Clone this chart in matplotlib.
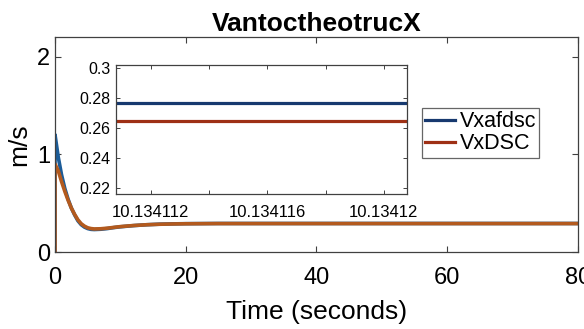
import numpy as np
import matplotlib
matplotlib.use('Agg')
import matplotlib.pyplot as plt

plt.rcParams['font.family'] = ['Liberation Sans', 'DejaVu Sans']

# main response
t = [0, 0, 0.5, 1, 1.5, 2, 2.5, 3, 3.5, 4, 4.5, 5, 5.5, 6, 7, 8, 9, 10, 12, 14,
     16, 18, 20, 25, 30, 40, 50, 60, 70, 80]
v_afdsc = [0, 1.2, 0.97, 0.79, 0.65, 0.54, 0.45, 0.38, 0.32, 0.28, 0.255, 0.24, 0.232,
           0.23, 0.233, 0.24, 0.25, 0.258, 0.27, 0.279, 0.285, 0.288, 0.29, 0.292, 0.292,
           0.292, 0.292, 0.292, 0.292, 0.292]
v_dsc = [0, 0.9, 0.83, 0.72, 0.62, 0.53, 0.45, 0.385, 0.33, 0.29, 0.265, 0.248, 0.24,
         0.236, 0.238, 0.244, 0.252, 0.26, 0.271, 0.279, 0.284, 0.287, 0.289, 0.291, 0.291,
         0.291, 0.291, 0.291, 0.291, 0.291]

# zoomed window
t_zoom = [10.13411, 10.13413]
zoom_afdsc = [0.2767, 0.2767]
zoom_dsc = [0.2643, 0.2643]

labels = ['Vxafdsc', 'VxDSC']
xticks_main = [0, 20, 40, 60, 80]
yticks_main = [0, 1, 2]
xticks_zoom = [10.134112, 10.134114, 10.134116, 10.134118, 10.13412]
xticklabels_zoom = ['10.134112', '', '10.134116', '', '10.13412']
yticks_zoom = [0.22, 0.24, 0.26, 0.28, 0.3]
yticklabels_zoom = ['0.22', '0.24', '0.26', '0.28', '0.3']

edge = '#404040'

fig = plt.figure(figsize=(5.84, 3.29), dpi=100)
ax = fig.add_axes([0.0942, 0.234, 0.8955, 0.6535])
ax.plot(t, v_afdsc, color='#1c5c98', lw=2.6)
ax.plot(t, v_dsc, color='#b35a1e', lw=2.6)
ax.set_xlim(0, 80)
ax.set_ylim(0, 2.2)
ax.set_xticks(xticks_main)
ax.set_yticks(yticks_main)
ax.tick_params(direction='in', length=4, width=0.8, colors=edge, labelcolor='black',
               labelsize=17, top=True, right=True)
ax.tick_params(axis='x', pad=11)
ax.tick_params(axis='y', pad=3.5)
for s in ax.spines.values():
    s.set_color(edge)
    s.set_linewidth(0.9)
ax.set_title('VantoctheotrucX', fontsize=19, fontweight='bold', pad=4)
ax.set_xlabel('Time (seconds)', fontsize=19)
ax.set_ylabel('m/s', fontsize=19)
ax.xaxis.set_label_coords(0.5, -0.225)
ax.yaxis.set_label_coords(-0.046, 0.5)

axi = fig.add_axes([0.1986, 0.410, 0.4984, 0.392])
l1, = axi.plot(t_zoom, zoom_afdsc, color='#17396f', lw=2.3)
l2, = axi.plot(t_zoom, zoom_dsc, color='#9e3015', lw=2.3)
axi.set_xlim(10.1341108, 10.1341208)
axi.set_ylim(0.2158, 0.3017)
axi.set_xticks(xticks_zoom)
axi.set_xticklabels(xticklabels_zoom)
axi.set_yticks(yticks_zoom)
axi.set_yticklabels(yticklabels_zoom)
axi.tick_params(direction='in', length=3, width=0.7, colors=edge, labelcolor='black',
                labelsize=11.5, top=True, right=True)
axi.tick_params(axis='x', labelsize=12, pad=8)
axi.tick_params(axis='y', pad=4)
for s in axi.spines.values():
    s.set_color(edge)
    s.set_linewidth(0.9)

leg = fig.legend([l1, l2], labels, loc='upper left',
                 bbox_to_anchor=(422 / 584, 1 - 108 / 329), bbox_transform=fig.transFigure,
                 fontsize=15.5, frameon=True, fancybox=False, borderaxespad=0,
                 borderpad=0.15, labelspacing=0.05, handlelength=1.4, handletextpad=0.2)
leg.get_frame().set_edgecolor(edge)
leg.get_frame().set_linewidth(0.9)
for h in leg.get_lines():
    h.set_linewidth(2.3)

fig.savefig('out.png', dpi=100, facecolor='white')
